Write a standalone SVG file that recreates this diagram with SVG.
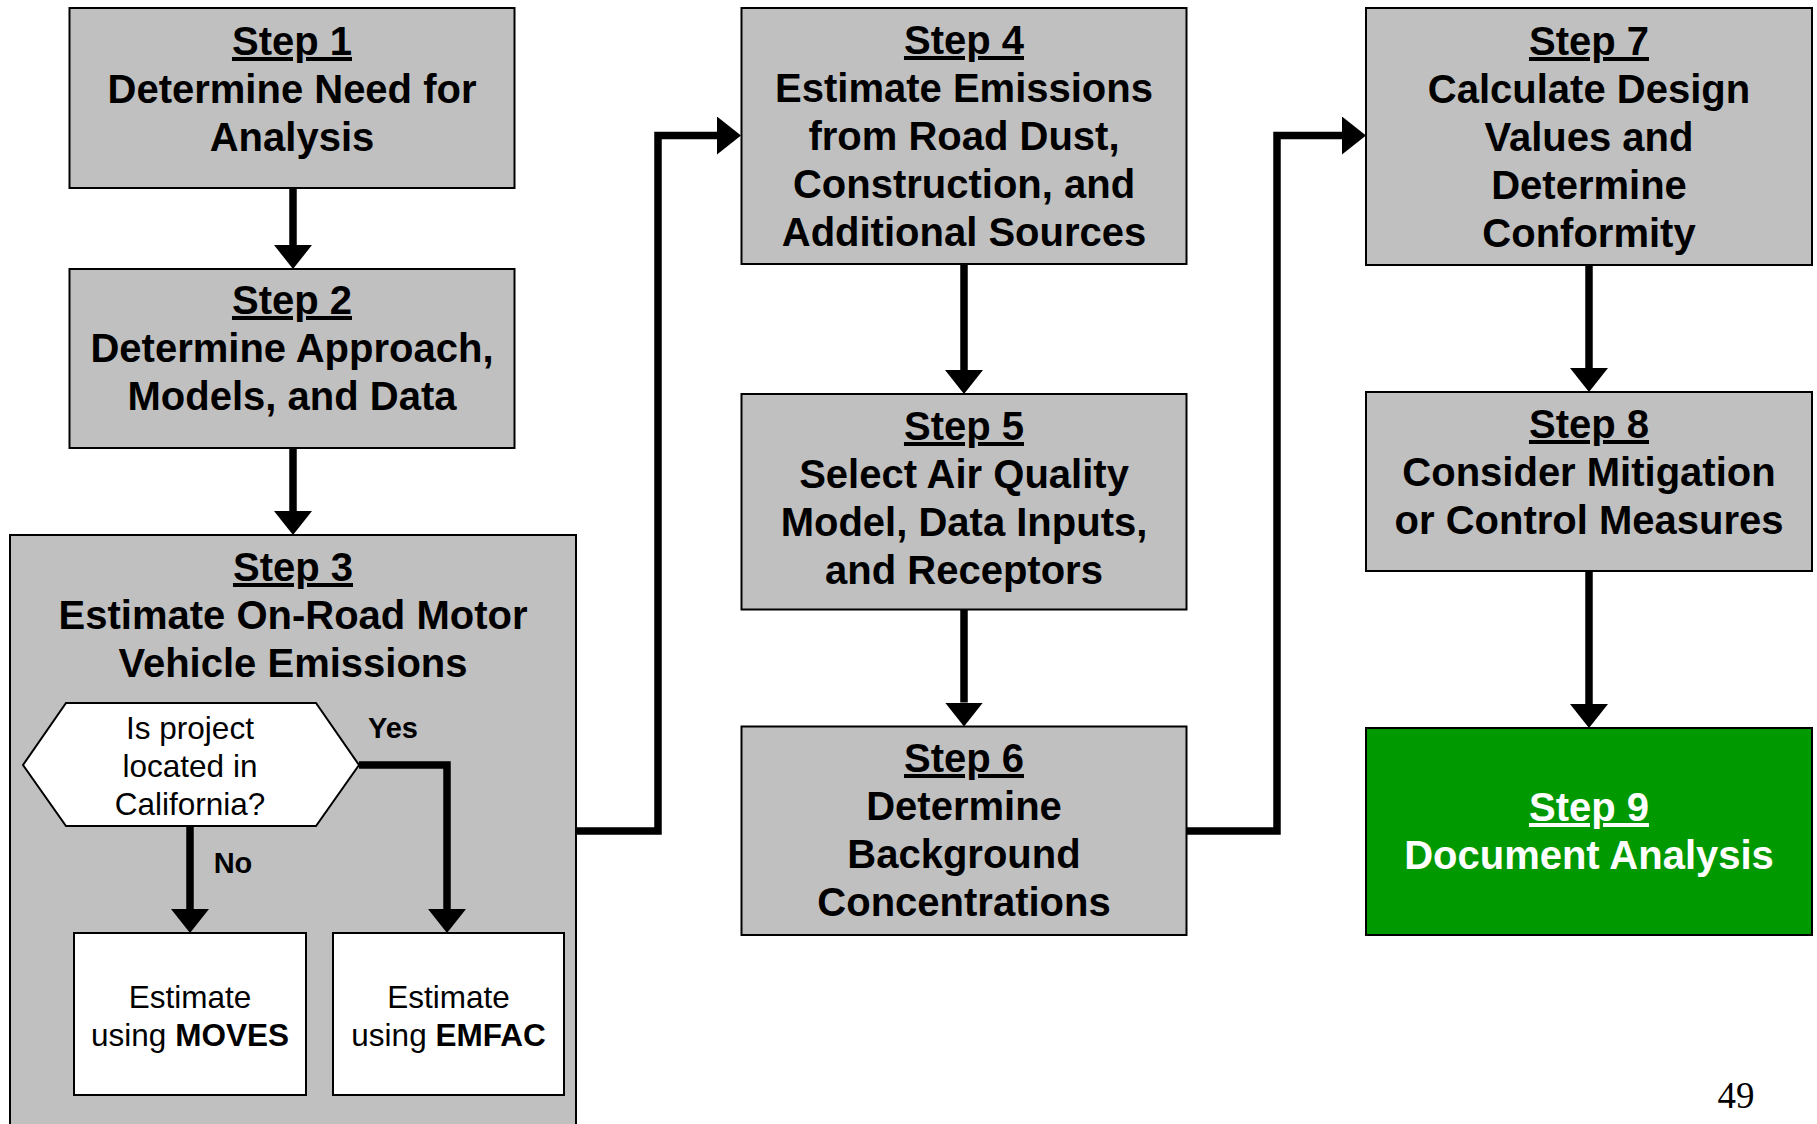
<svg xmlns="http://www.w3.org/2000/svg" width="1817" height="1124" viewBox="0 0 1817 1124">
<style>
.box{fill:#C0C0C0;stroke:#000;stroke-width:2}
.wbox{fill:#FFFFFF;stroke:#000;stroke-width:2}
.gbox{fill:#009900;stroke:#000;stroke-width:2}
.t{font-family:"Liberation Sans",Arial,sans-serif;font-weight:bold;font-size:40px;text-anchor:middle;fill:#000}
.u{text-decoration:underline;text-decoration-thickness:3.5px;text-underline-offset:5px;text-decoration-skip-ink:none}
.w{fill:#FFFFFF}
.s{font-family:"Liberation Sans",Arial,sans-serif;font-size:31.5px;text-anchor:middle;fill:#000}
.lb{font-family:"Liberation Sans",Arial,sans-serif;font-weight:bold;font-size:29px;text-anchor:middle;fill:#000}
.c{fill:none;stroke:#000;stroke-width:7.5;stroke-linejoin:miter}
</style>
<defs>
<marker id="ah" viewBox="0 0 24 38" refX="0" refY="19" markerWidth="24" markerHeight="38" markerUnits="userSpaceOnUse" orient="auto">
<path d="M0,0 L24,19 L0,38 z" fill="#000"/>
</marker>
</defs>

<g id="step3">
<rect class="box" x="10" y="535" width="566" height="620"/>
<text class="t" x="293"><tspan class="u" x="293" y="581">Step 3</tspan><tspan x="293" y="629">Estimate On-Road Motor</tspan><tspan x="293" y="677">Vehicle Emissions</tspan></text>
</g>

<g id="connectors">
<path class="c" d="M293,188 V245" marker-end="url(#ah)"/>
<path class="c" d="M293,448 V511" marker-end="url(#ah)"/>
<path class="c" d="M190,826 V909" marker-end="url(#ah)"/>
<path class="c" d="M359,765 H447 V909" marker-end="url(#ah)"/>
<path class="c" d="M576,831 H658 V135.5 H717" marker-end="url(#ah)"/>
<path class="c" d="M964,264 V370" marker-end="url(#ah)"/>
<path class="c" d="M964,609.5 V702.5" marker-end="url(#ah)"/>
<path class="c" d="M1186.5,831 H1277 V135.5 H1342" marker-end="url(#ah)"/>
<path class="c" d="M1589,265 V368" marker-end="url(#ah)"/>
<path class="c" d="M1589,571 V704" marker-end="url(#ah)"/>
<text class="lb" x="393" y="738">Yes</text>
<text class="lb" x="233" y="873">No</text>
</g>

<g id="step1">
<rect class="box" x="69.5" y="8" width="445" height="180"/>
<text class="t"><tspan class="u" x="292" y="55">Step 1</tspan><tspan x="292" y="103">Determine Need for</tspan><tspan x="292" y="151">Analysis</tspan></text>
</g>

<g id="step2">
<rect class="box" x="69.5" y="269" width="445" height="179"/>
<text class="t"><tspan class="u" x="292" y="314">Step 2</tspan><tspan x="292" y="362">Determine Approach,</tspan><tspan x="292" y="410">Models, and Data</tspan></text>
</g>

<g id="decision">
<polygon class="wbox" points="23,765 66,703 316,703 359,765 316,826 66,826"/>
<text class="s"><tspan x="190" y="739">Is project</tspan><tspan x="190" y="777">located in</tspan><tspan x="190" y="815">California?</tspan></text>
</g>

<g id="moves">
<rect class="wbox" x="74" y="933" width="232" height="162"/>
<text class="s"><tspan x="190" y="1008">Estimate</tspan><tspan x="190" y="1046">using <tspan font-weight="bold">MOVES</tspan></tspan></text>
</g>

<g id="emfac">
<rect class="wbox" x="333" y="933" width="231" height="162"/>
<text class="s"><tspan x="448.5" y="1008">Estimate</tspan><tspan x="448.5" y="1046">using <tspan font-weight="bold">EMFAC</tspan></tspan></text>
</g>

<g id="step4">
<rect class="box" x="741.5" y="8" width="445" height="256"/>
<text class="t"><tspan class="u" x="964" y="54">Step 4</tspan><tspan x="964" y="102">Estimate Emissions</tspan><tspan x="964" y="150">from Road Dust,</tspan><tspan x="964" y="198">Construction, and</tspan><tspan x="964" y="246">Additional Sources</tspan></text>
</g>

<g id="step5">
<rect class="box" x="741.5" y="394" width="445" height="215.5"/>
<text class="t"><tspan class="u" x="964" y="440">Step 5</tspan><tspan x="964" y="488">Select Air Quality</tspan><tspan x="964" y="536">Model, Data Inputs,</tspan><tspan x="964" y="584">and Receptors</tspan></text>
</g>

<g id="step6">
<rect class="box" x="741.5" y="726.5" width="445" height="208.5"/>
<text class="t"><tspan class="u" x="964" y="772">Step 6</tspan><tspan x="964" y="820">Determine</tspan><tspan x="964" y="868">Background</tspan><tspan x="964" y="916">Concentrations</tspan></text>
</g>

<g id="step7">
<rect class="box" x="1366" y="8" width="446" height="257"/>
<text class="t"><tspan class="u" x="1589" y="55">Step 7</tspan><tspan x="1589" y="103">Calculate Design</tspan><tspan x="1589" y="151">Values and</tspan><tspan x="1589" y="199">Determine</tspan><tspan x="1589" y="247">Conformity</tspan></text>
</g>

<g id="step8">
<rect class="box" x="1366" y="392" width="446" height="179"/>
<text class="t"><tspan class="u" x="1589" y="438">Step 8</tspan><tspan x="1589" y="486">Consider Mitigation</tspan><tspan x="1589" y="534">or Control Measures</tspan></text>
</g>

<g id="step9">
<rect class="gbox" x="1366" y="728" width="446" height="207"/>
<text class="t w"><tspan class="u" x="1589" y="821">Step 9</tspan><tspan x="1589" y="869">Document Analysis</tspan></text>
</g>

<text x="1736" y="1108" font-family="'Liberation Serif','Times New Roman',serif" font-size="37" text-anchor="middle" fill="#000">49</text>
</svg>
